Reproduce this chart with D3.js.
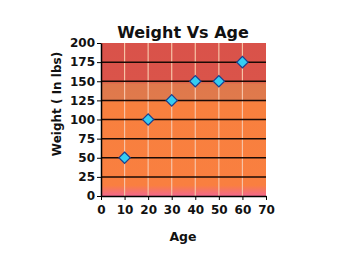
<!DOCTYPE html>
<html>
<head>
<meta charset="utf-8">
<script src="https://cdn.jsdelivr.net/npm/d3@7"></script>
<style>
  body { margin: 0; background: #fff; }
  text { font-family: "DejaVu Sans", Verdana, sans-serif; font-weight: bold; fill: #111; }
</style>
</head>
<body>
<div id="chart-area"></div>
<script>
// --- Data ---
var ages = [10, 20, 30, 40, 50, 60];
var weights = [50, 100, 125, 150, 150, 175];
var xTicks = [0, 10, 20, 30, 40, 50, 60, 70];
var yTicks = [0, 25, 50, 75, 100, 125, 150, 175, 200];

// --- Setup the canvas ---
var margins = {top: 43, bottom: 77, left: 101, right: 84};
var width = 350 - margins.left - margins.right;
var height = 273 - margins.top - margins.bottom;

var svg = d3.select("#chart-area").append("svg")
    .attr("width", 350)
    .attr("height", 273);

var group = svg.append("g")
    .attr("transform", "translate(" + margins.left + ", " + margins.top + ")");

// --- Scales ---
var x = d3.scaleLinear().domain([0, 70]).range([0, width]);
var y = d3.scaleLinear().domain([0, 200]).range([height, 0]);

// --- Background gradient ---
var grad = svg.append("defs").append("linearGradient")
    .attr("id", "bg")
    .attr("x1", 0).attr("y1", 0).attr("x2", 0).attr("y2", 1);
[[0, "#d9524a"], [0.25, "#da544a"], [0.27, "#df784c"], [0.37, "#e07a4c"],
 [0.39, "#f8803e"], [0.93, "#f97f40"], [1, "#f2688c"]].forEach(function(s) {
    grad.append("stop").attr("offset", s[0]).attr("stop-color", s[1]);
});

group.append("rect")
    .attr("width", width)
    .attr("height", height)
    .attr("fill", "url(#bg)");

// vertical grid
group.selectAll(".vgrid").data(xTicks.filter(function(d) { return d > 0 && d < 70; }))
    .enter().append("line")
    .attr("x1", function(d) { return x(d); })
    .attr("x2", function(d) { return x(d); })
    .attr("y1", 0).attr("y2", height)
    .attr("stroke", "#f6c2a6")
    .attr("stroke-width", 1.2);

// horizontal grid
group.selectAll(".hgrid").data(yTicks.filter(function(d) { return d > 0 && d < 200; }))
    .enter().append("line")
    .attr("x1", 0).attr("x2", width)
    .attr("y1", function(d) { return y(d); })
    .attr("y2", function(d) { return y(d); })
    .attr("stroke", "#1a0a05")
    .attr("stroke-width", 1.5);

// --- Axes ---
var xAxis = d3.axisBottom(x).tickValues(xTicks).tickSize(4).tickSizeOuter(0);
var yAxis = d3.axisLeft(y).tickValues(yTicks).tickSize(4).tickSizeOuter(0);

var xAxisGroup = group.append("g")
    .attr("transform", "translate(0, " + height + ")")
    .call(xAxis);
var yAxisGroup = group.append("g").call(yAxis);

[xAxisGroup, yAxisGroup].forEach(function(g) {
    g.select(".domain").attr("stroke", "#000").attr("stroke-width", 1.5);
    g.selectAll(".tick line").attr("stroke", "#000");
    g.selectAll("text")
        .attr("fill", "#111")
        .attr("font-size", "12px")
        .attr("font-family", "DejaVu Sans, Verdana, sans-serif")
        .attr("font-weight", "bold");
});
xAxisGroup.selectAll("text").attr("dy", "0.95em");
yAxisGroup.selectAll("text").attr("x", -6);

// --- Points ---
var diamond = d3.symbol().type(d3.symbolSquare).size(64);
group.selectAll(".pt").data(ages)
    .enter().append("path")
    .attr("d", diamond)
    .attr("transform", function(d, i) {
        return "translate(" + x(d) + "," + y(weights[i]) + ") rotate(45)";
    })
    .attr("fill", "#35cdf2")
    .attr("stroke", "#1d3f8f")
    .attr("stroke-width", 1.2);

// --- Labels ---
svg.append("text")
    .attr("x", 183).attr("y", 38)
    .attr("text-anchor", "middle")
    .attr("font-size", "16px")
    .text("Weight Vs Age");

svg.append("text")
    .attr("x", 183).attr("y", 241)
    .attr("text-anchor", "middle")
    .attr("font-size", "12.5px")
    .text("Age");

svg.append("text")
    .attr("transform", "translate(61, 104) rotate(-90)")
    .attr("text-anchor", "middle")
    .attr("font-size", "12px")
    .text("Weight ( In lbs)");
</script>
</body>
</html>
